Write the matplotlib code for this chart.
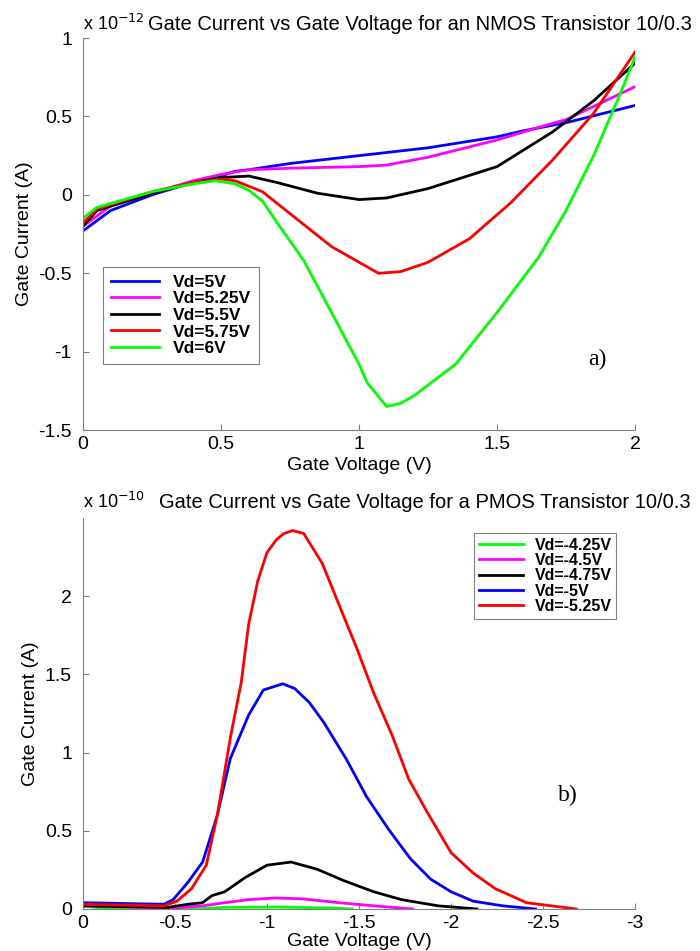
# Gate current vs gate voltage, NMOS (a) and PMOS (b) transistors 10/0.3
import matplotlib
matplotlib.use("Agg")
import matplotlib.pyplot as plt

plt.rcParams['font.family'] = ['Liberation Sans', 'DejaVu Sans']

# ---- a) NMOS, current in units of 1e-12 A ----
nmos_labels = ["Vd=5V", "Vd=5.25V", "Vd=5.5V", "Vd=5.75V", "Vd=6V"]
nmos_colors = ["#0000ff", "#ff00ff", "#000000", "#ff0000", "#00ff00"]

vg_5 = [0, 0.1, 0.25, 0.4, 0.5, 0.55, 0.6, 0.75, 1.0, 1.25, 1.5, 1.6, 1.75, 2.0]
ig_5 = [-0.23, -0.10, 0.0, 0.08, 0.12, 0.15, 0.16, 0.20, 0.25, 0.30, 0.37, 0.41, 0.46, 0.57]

vg_525 = [0, 0.1, 0.25, 0.4, 0.5, 0.6, 0.75, 1.0, 1.1, 1.25, 1.5, 1.65, 1.75, 2.0]
ig_525 = [-0.20, -0.07, 0.01, 0.09, 0.13, 0.16, 0.17, 0.18, 0.19, 0.24, 0.35, 0.43, 0.48, 0.69]

vg_55 = [0, 0.05, 0.25, 0.4, 0.5, 0.6, 0.7, 0.85, 1.0, 1.1, 1.25, 1.5, 1.7, 1.85, 2.0]
ig_55 = [-0.20, -0.10, 0.01, 0.08, 0.11, 0.12, 0.08, 0.01, -0.03, -0.02, 0.04, 0.18, 0.40, 0.60, 0.84]

vg_575 = [0, 0.05, 0.25, 0.4, 0.5, 0.55, 0.65, 0.75, 0.9, 1.0, 1.07, 1.15, 1.25, 1.4, 1.55, 1.7, 1.85, 2.0]
ig_575 = [-0.18, -0.09, 0.02, 0.08, 0.10, 0.09, 0.02, -0.12, -0.33, -0.43, -0.50, -0.49, -0.43, -0.28, -0.05, 0.22, 0.52, 0.91]

vg_6 = [0, 0.05, 0.25, 0.4, 0.48, 0.55, 0.6, 0.65, 0.7, 0.8, 0.9, 1.0, 1.03, 1.1, 1.15, 1.2, 1.35, 1.5, 1.65, 1.75, 1.85, 1.95, 2.0]
ig_6 = [-0.15, -0.08, 0.02, 0.07, 0.09, 0.07, 0.03, -0.04, -0.17, -0.42, -0.75, -1.08, -1.2, -1.35, -1.33, -1.28, -1.08, -0.75, -0.40, -0.10, 0.25, 0.66, 0.88]

nmos_x = [vg_5, vg_525, vg_55, vg_575, vg_6]
nmos_y = [ig_5, ig_525, ig_55, ig_575, ig_6]

# ---- b) PMOS, current in units of 1e-10 A ----
pmos_labels = ["Vd=-4.25V", "Vd=-4.5V", "Vd=-4.75V", "Vd=-5V", "Vd=-5.25V"]
pmos_colors = ["#00ff00", "#ff00ff", "#000000", "#0000ff", "#ff0000"]

vp_425 = [0, -0.1, -0.6, -0.77, -1.06, -1.35, -1.46]
ip_425 = [0.02, 0.005, 0.0, 0.01, 0.012, 0.006, 0.0]

vp_45 = [0, -0.47, -0.65, -0.77, -0.90, -1.04, -1.19, -1.39, -1.58, -1.79]
ip_45 = [0.02, 0.005, 0.02, 0.04, 0.06, 0.07, 0.065, 0.04, 0.02, 0.0]

vp_475 = [0, -0.46, -0.57, -0.65, -0.70, -0.77, -0.88, -1.0, -1.13, -1.27, -1.42, -1.58, -1.73, -1.93, -2.14]
ip_475 = [0.02, 0.01, 0.03, 0.04, 0.085, 0.11, 0.20, 0.28, 0.30, 0.255, 0.18, 0.11, 0.06, 0.02, 0.0]

vp_5 = [0, -0.44, -0.49, -0.57, -0.65, -0.73, -0.80, -0.90, -0.98, -1.085, -1.15, -1.23, -1.31,
        -1.43, -1.54, -1.66, -1.78, -1.89, -2.0, -2.12, -2.28, -2.46]
ip_5 = [0.04, 0.03, 0.06, 0.17, 0.30, 0.60, 0.96, 1.24, 1.40, 1.44, 1.41, 1.32, 1.19,
        0.96, 0.72, 0.51, 0.32, 0.19, 0.11, 0.05, 0.02, 0.0]

vp_525 = [0, -0.44, -0.51, -0.59, -0.67, -0.73, -0.80, -0.86, -0.90, -0.95, -1.0, -1.05, -1.09, -1.14, -1.20,
          -1.30, -1.40, -1.49, -1.58, -1.68, -1.77, -1.87, -2.0, -2.12, -2.24, -2.41, -2.68]
ip_525 = [0.03, 0.02, 0.05, 0.13, 0.28, 0.60, 1.09, 1.45, 1.82, 2.10, 2.28, 2.36, 2.40, 2.42, 2.40,
          2.21, 1.92, 1.66, 1.38, 1.11, 0.83, 0.62, 0.36, 0.23, 0.13, 0.04, 0.0]

pmos_x = [vp_425, vp_45, vp_475, vp_5, vp_525]
pmos_y = [ip_425, ip_45, ip_475, ip_5, ip_525]

fig = plt.figure(figsize=(7, 9.51), dpi=100)
ax1 = fig.add_axes([0.1186, 0.5478, 0.7886, 0.4122])
ax2 = fig.add_axes([0.1186, 0.0442, 0.7886, 0.4111])

spine_grey = "#808080"
for ax in (ax1, ax2):
    ax.spines['top'].set_visible(False)
    ax.spines['right'].set_visible(False)
    ax.spines['left'].set_color(spine_grey)
    ax.spines['bottom'].set_color(spine_grey)
    ax.tick_params(direction='in', length=4, color=spine_grey, labelsize=14)
    ax.tick_params(axis='x', pad=4)
    ax.tick_params(axis='y', pad=8)

# Top panel
for x, y, c, lab in zip(nmos_x, nmos_y, nmos_colors, nmos_labels):
    ax1.plot(x, y, color=c, lw=2, label=lab)
ax1.set_xlim(0, 2)
ax1.set_ylim(-1.5, 1)
ax1.set_xticks([0, 0.5, 1, 1.5, 2])
ax1.set_xticklabels(["0", "0.5", "1", "1.5", "2"])
ax1.set_yticks([-1.5, -1, -0.5, 0, 0.5, 1])
ax1.set_yticklabels(["-1.5", "-1", "-0.5", "0", "0.5", "1"])
ax1.set_xlabel("Gate Voltage (V)", fontsize=14, labelpad=3)
ax1.set_ylabel("Gate Current (A)", fontsize=14, labelpad=4)
ax1.text(0.0, 1.01, r"x 10$^{-12}$", transform=ax1.transAxes, fontsize=13, ha='left', va='bottom')
ax1.text(0.118, 1.01, "Gate Current vs Gate Voltage for an NMOS Transistor 10/0.3",
         transform=ax1.transAxes, fontsize=14.5, ha='left', va='bottom')
ax1.text(0.915, 0.165, "a)", transform=ax1.transAxes, fontsize=17, family='Liberation Serif')
leg1 = ax1.legend(loc='upper left', bbox_to_anchor=(0.036, 0.416), borderaxespad=0,
                  prop={'weight': 'bold', 'size': 12.5}, fancybox=False, framealpha=1,
                  edgecolor=spine_grey, handlelength=2.8, handletextpad=0.8,
                  labelspacing=0.08, borderpad=0.45)
leg1.get_frame().set_linewidth(0.8)

# Bottom panel
for x, y, c, lab in zip(pmos_x, pmos_y, pmos_colors, pmos_labels):
    ax2.plot(x, y, color=c, lw=2, label=lab)
ax2.set_xlim(0, -3)
ax2.set_ylim(0, 2.5)
ax2.set_xticks([0, -0.5, -1, -1.5, -2, -2.5, -3])
ax2.set_xticklabels(["0", "-0.5", "-1", "-1.5", "-2", "-2.5", "-3"])
ax2.set_yticks([0, 0.5, 1, 1.5, 2])
ax2.set_yticklabels(["0", "0.5", "1", "1.5", "2"])
ax2.set_xlabel("Gate Voltage (V)", fontsize=14, labelpad=1)
ax2.set_ylabel("Gate Current (A)", fontsize=14, labelpad=4)
ax2.text(0.0, 1.015, r"x 10$^{-10}$", transform=ax2.transAxes, fontsize=13, ha='left', va='bottom')
ax2.text(0.138, 1.015, "Gate Current vs Gate Voltage for a PMOS Transistor 10/0.3",
         transform=ax2.transAxes, fontsize=14.5, ha='left', va='bottom')
ax2.text(0.86, 0.275, "b)", transform=ax2.transAxes, fontsize=17, family='Liberation Serif')
leg2 = ax2.legend(loc='upper left', bbox_to_anchor=(0.708, 0.962), borderaxespad=0,
                  prop={'weight': 'bold', 'size': 11.5}, fancybox=False, framealpha=1,
                  edgecolor=spine_grey, handlelength=2.8, handletextpad=0.7,
                  labelspacing=0.02, borderpad=0.3)
leg2.get_frame().set_linewidth(0.8)

fig.savefig("out.png", dpi=100)
